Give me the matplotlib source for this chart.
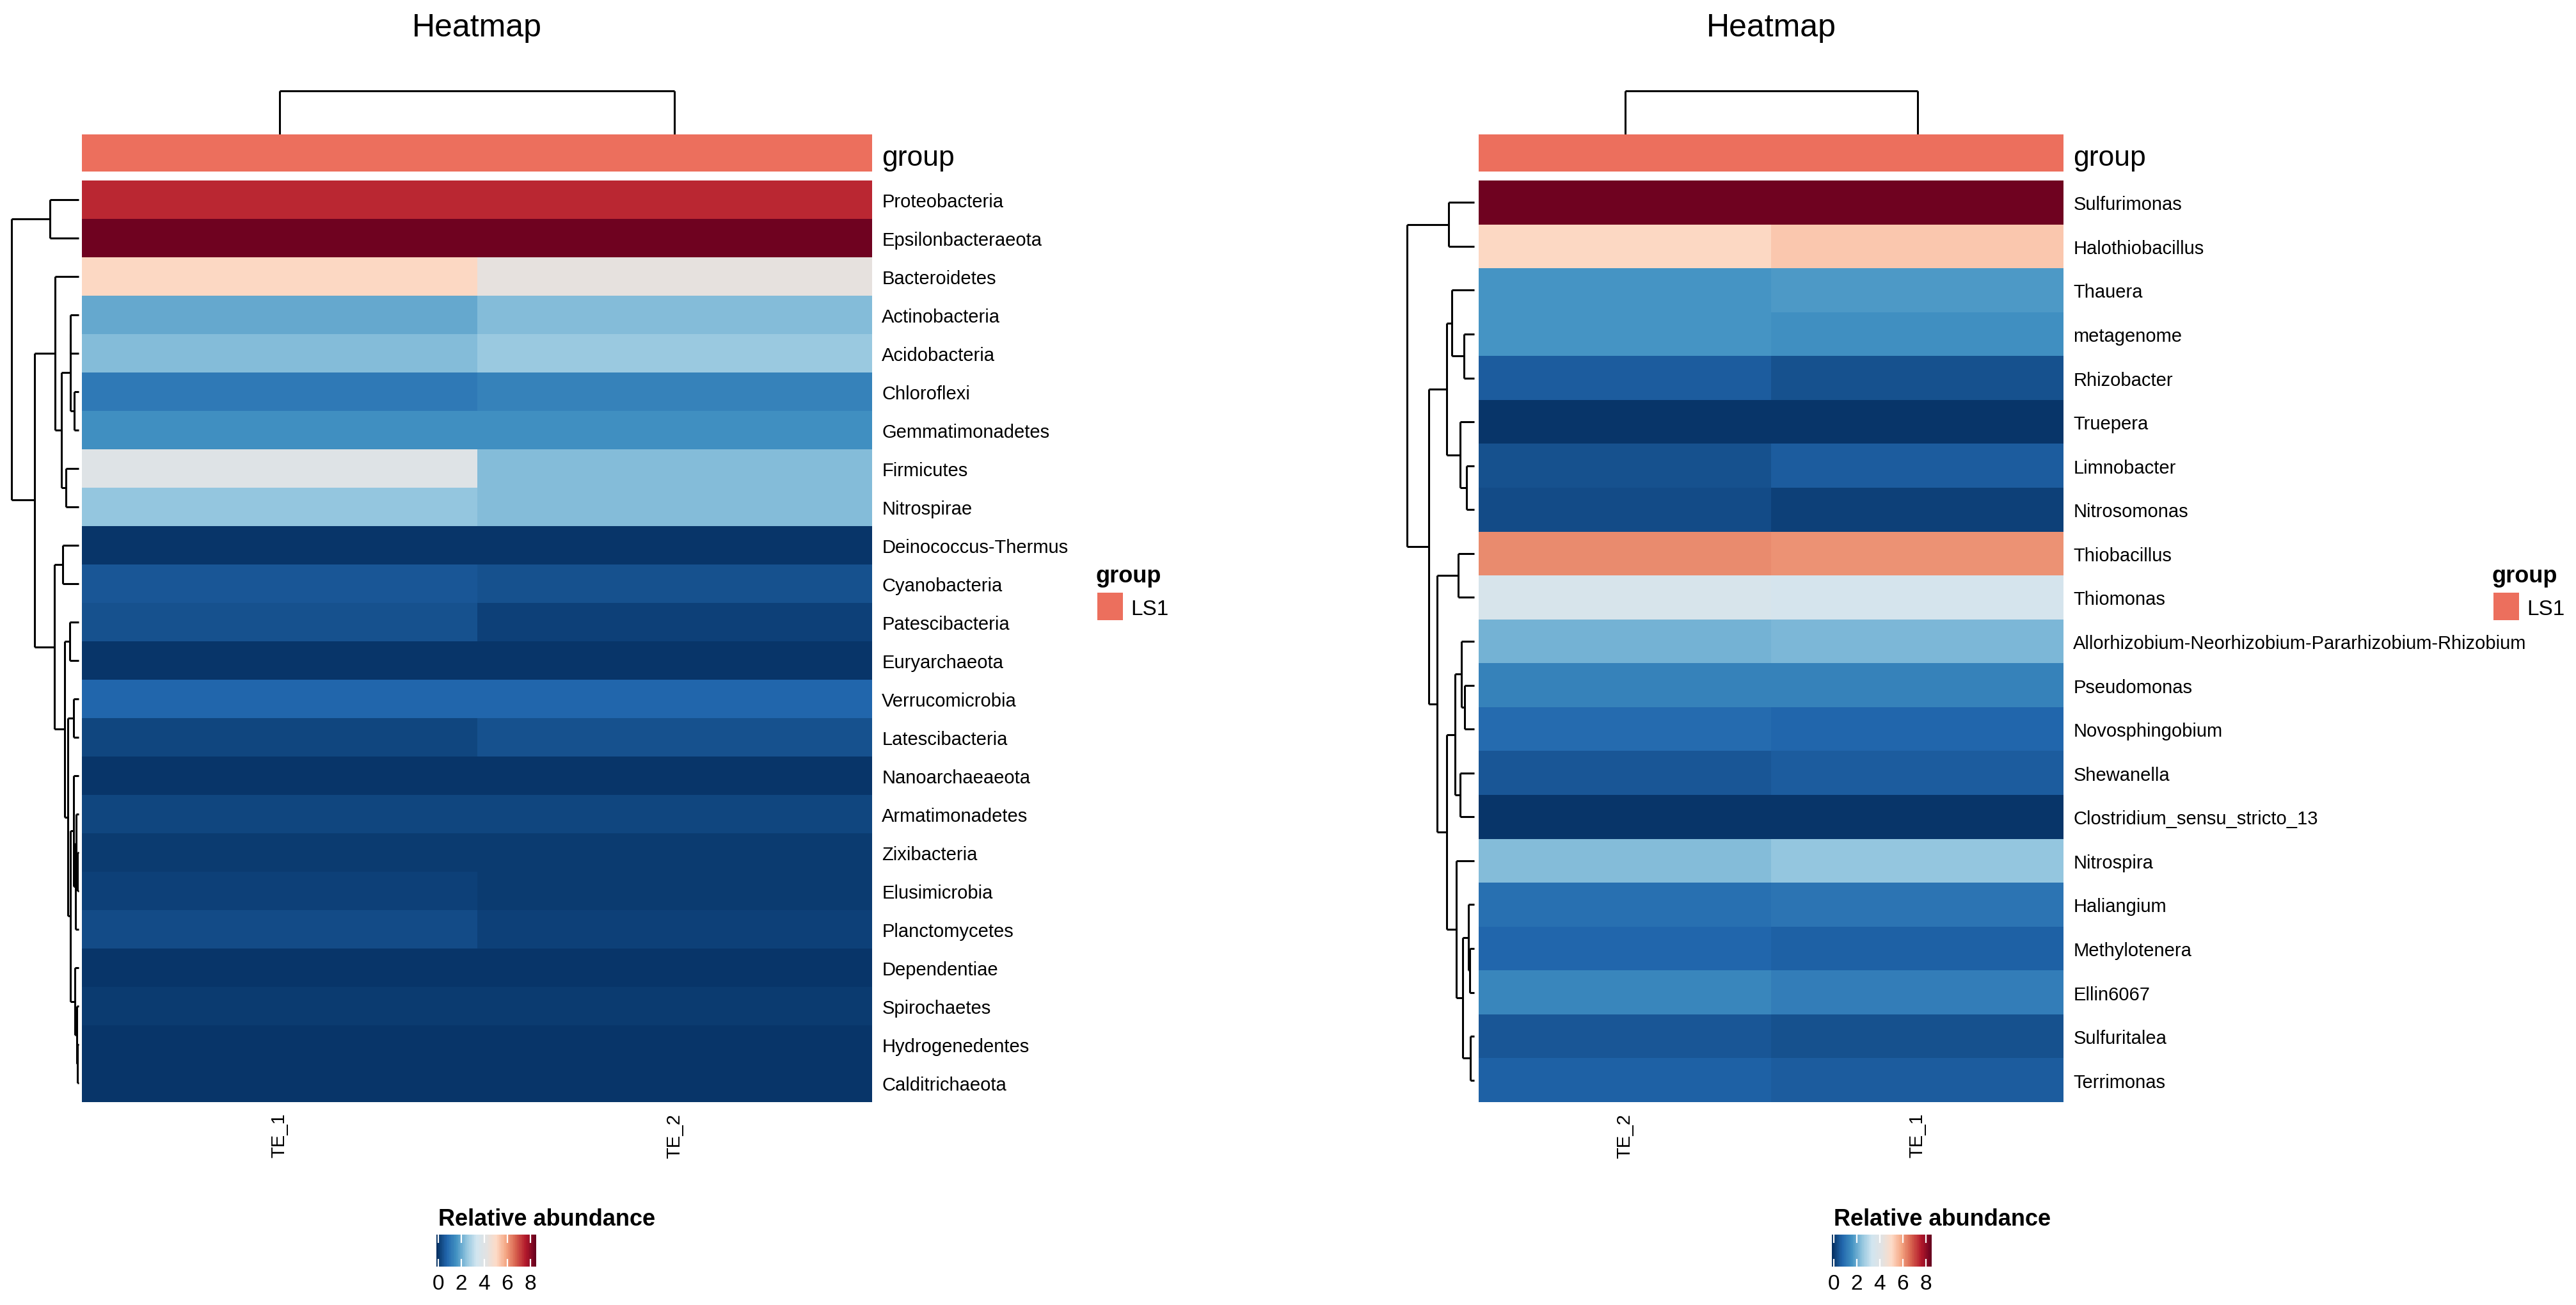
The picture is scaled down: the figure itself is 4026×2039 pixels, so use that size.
import numpy as np
import matplotlib
matplotlib.use('Agg')
import matplotlib.pyplot as plt
from matplotlib.colors import LinearSegmentedColormap, ListedColormap, Normalize
from matplotlib.cm import ScalarMappable
import matplotlib.patches as mpatches

plt.rcParams['font.family'] = ['Liberation Sans', 'DejaVu Sans']

W, H = 4026, 2040

# ---- data: phylum level (left panel) ----
phyla = ['Proteobacteria', 'Epsilonbacteraeota', 'Bacteroidetes', 'Actinobacteria',
         'Acidobacteria', 'Chloroflexi', 'Gemmatimonadetes', 'Firmicutes', 'Nitrospirae',
         'Deinococcus-Thermus', 'Cyanobacteria', 'Patescibacteria', 'Euryarchaeota',
         'Verrucomicrobia', 'Latescibacteria', 'Nanoarchaeaeota', 'Armatimonadetes',
         'Zixibacteria', 'Elusimicrobia', 'Planctomycetes', 'Dependentiae', 'Spirochaetes',
         'Hydrogenedentes', 'Calditrichaeota']
phyla_te1 = [7.4, 8.35, 5.05, 1.95, 2.35, 1.1, 1.5, 4.0, 2.45, 0.0, 0.5, 0.45, 0.0,
             0.75, 0.2, 0.0, 0.2, 0.07, 0.15, 0.3, 0.02, 0.04, 0.0, 0.0]
phyla_te2 = [7.4, 8.4, 4.3, 2.3, 2.6, 1.3, 1.5, 2.3, 2.3, 0.0, 0.4, 0.15, 0.02,
             0.78, 0.4, 0.0, 0.2, 0.07, 0.07, 0.15, 0.02, 0.04, 0.0, 0.0]
phyla_cols = ['TE_1', 'TE_2']
# merges: (child a, child b, height relative to root); leaves 0..n-1, clusters n+k
phyla_links = [(0, 1, 0.43), (3, 4, 0.12), (5, 6, 0.07), (25, 26, 0.125), (7, 8, 0.19),
               (27, 28, 0.254), (2, 29, 0.356), (9, 10, 0.24), (11, 12, 0.133),
               (13, 14, 0.08), (17, 18, 0.02), (16, 34, 0.035), (35, 19, 0.05),
               (15, 36, 0.075), (22, 23, 0.015), (21, 38, 0.03), (20, 39, 0.055),
               (37, 40, 0.127), (33, 41, 0.165), (32, 42, 0.206), (31, 43, 0.365),
               (30, 44, 0.66), (24, 45, 1.0)]

# ---- data: genus level (right panel) ----
genera = ['Sulfurimonas', 'Halothiobacillus', 'Thauera', 'metagenome', 'Rhizobacter',
          'Truepera', 'Limnobacter', 'Nitrosomonas', 'Thiobacillus', 'Thiomonas',
          'Allorhizobium-Neorhizobium-Pararhizobium-Rhizobium', 'Pseudomonas',
          'Novosphingobium', 'Shewanella', 'Clostridium_sensu_stricto_13', 'Nitrospira',
          'Haliangium', 'Methylotenera', 'Ellin6067', 'Sulfuritalea', 'Terrimonas']
genera_te2 = [8.4, 5.1, 1.6, 1.6, 0.6, 0.0, 0.45, 0.35, 6.2, 3.6, 2.1, 1.25, 0.82,
              0.5, 0.0, 2.3, 0.9, 0.72, 1.38, 0.52, 0.68]
genera_te1 = [8.4, 5.3, 1.75, 1.55, 0.45, 0.0, 0.62, 0.17, 6.1, 3.55, 2.2, 1.32, 0.72,
              0.6, 0.0, 2.45, 1.0, 0.63, 1.22, 0.43, 0.62]
genera_cols = ['TE_2', 'TE_1']
genera_links = [(0, 1, 0.38), (3, 4, 0.156), (2, 22, 0.33), (6, 7, 0.11), (5, 24, 0.21),
                (23, 25, 0.41), (8, 9, 0.24), (11, 12, 0.14), (10, 28, 0.19),
                (13, 14, 0.21), (29, 30, 0.29), (17, 18, 0.07), (16, 32, 0.09),
                (19, 20, 0.06), (33, 34, 0.17), (15, 35, 0.27), (31, 36, 0.41),
                (27, 37, 0.55), (26, 38, 0.68), (21, 39, 1.0)]

group_name = 'LS1'
cbar_ticks = [0, 2, 4, 6, 8]

cmap = LinearSegmentedColormap.from_list(
    'rdbu', ['#053061', '#2166AC', '#4393C3', '#92C5DE', '#D1E5F0', '#E2E2E2',
             '#FDDBC7', '#F4A582', '#D6604D', '#B2182B', '#67001F'], N=100)
norm = Normalize(vmin=-0.15, vmax=8.5)
group_color = '#EC6F5D'


def add_ax(x0, y0, x1, y1):
    # pixel box (top-left origin) -> figure axes
    ax = fig.add_axes([x0 / W, 1 - y1 / H, (x1 - x0) / W, (y1 - y0) / H])
    ax.set_axis_off()
    return ax


def fx(x):
    return x / W


def fy(y):
    return 1 - y / H


def tree_segments(links, n):
    pos = {i: i + 0.5 for i in range(n)}
    hgt = {i: 0.0 for i in range(n)}
    segs = []
    for k, (a, b, h) in enumerate(links):
        for c in (a, b):
            segs.append((hgt[c], h, pos[c], pos[c]))
        segs.append((h, h, pos[a], pos[b]))
        pos[n + k] = (pos[a] + pos[b]) / 2
        hgt[n + k] = h
    return segs


def panel(labels, col_labels, values, links, hx0, hx1, dx0, dx1, legend_x, cbar_x):
    n = len(labels)
    hy0, hy1 = 283, 1723

    # heatmap
    ax = add_ax(hx0, hy0, hx1, hy1)
    ax.set_axis_on()
    mat = np.column_stack(values)
    ax.pcolormesh(mat, cmap=cmap, norm=norm, edgecolors='none', antialiased=False)
    ax.set_xlim(0, len(col_labels))
    ax.set_ylim(n, 0)
    for s in ax.spines.values():
        s.set_visible(False)
    ax.yaxis.tick_right()
    ax.set_yticks(np.arange(n) + 0.5)
    ax.set_yticklabels(labels, fontsize=21)
    ax.set_xticks(np.arange(len(col_labels)) + 0.5)
    ax.set_xticklabels(col_labels, fontsize=21, rotation=90)
    ax.tick_params(axis='y', length=0, pad=11)
    ax.tick_params(axis='x', length=0, pad=12)

    # row dendrogram
    dax = add_ax(dx0, hy0, dx1, hy1)
    for h0, h1, p0, p1 in tree_segments(links, n):
        dax.plot([h0, h1], [p0, p1], color='black', lw=2.2, clip_on=False,
                 solid_capstyle='butt')
    dax.set_xlim(1, 0)
    dax.set_ylim(n, 0)

    # column dendrogram (two samples)
    cax = add_ax(hx0, 143, hx1, 211)
    for h0, h1, p0, p1 in tree_segments([(0, 1, 1.0)], len(col_labels)):
        cax.plot([p0, p1], [h0, h1], color='black', lw=2.2, clip_on=False,
                 solid_capstyle='butt')
    cax.set_xlim(0, len(col_labels))
    cax.set_ylim(0, 1)

    # group annotation bar
    gax = add_ax(hx0, 211, hx1, 269)
    gax.imshow(np.zeros((1, len(col_labels))), cmap=ListedColormap([group_color]),
               aspect='auto', interpolation='nearest')
    fig.text(fx(hx1 + 15), fy(247), 'group', fontsize=32, va='center', ha='left')

    # title
    fig.text(fx((hx0 + hx1) / 2), fy(44), 'Heatmap', fontsize=36,
             ha='center', va='center')

    # group legend
    fig.text(fx(legend_x), fy(910), 'group', fontsize=26, fontweight='bold',
             ha='left', va='baseline')
    fig.patches.append(mpatches.Rectangle((fx(legend_x + 2), fy(970)), 40 / W, 43 / H,
                                          transform=fig.transFigure,
                                          facecolor=group_color, edgecolor='none'))
    fig.text(fx(legend_x + 54), fy(961), group_name, fontsize=24,
             ha='left', va='baseline')

    # colour key
    fig.text(fx(cbar_x + 3), fy(1915), 'Relative abundance', fontsize=26,
             fontweight='bold', ha='left', va='baseline')
    kax = fig.add_axes([fx(cbar_x), fy(1980), 156 / W, 50 / H])
    cb = fig.colorbar(ScalarMappable(norm=norm, cmap=cmap), cax=kax,
                      orientation='horizontal', ticks=cbar_ticks)
    cb.outline.set_visible(False)
    cb.minorticks_off()
    kax.tick_params(which='major', direction='in', color='white', length=9,
                    width=1.6, top=True, bottom=True, labelsize=24, pad=8)


fig = plt.figure(figsize=(W / 100, H / 100), dpi=100)

panel(phyla, phyla_cols, [phyla_te1, phyla_te2], phyla_links,
      128, 1363, 18, 123, 1713, 682)
panel(genera, genera_cols, [genera_te2, genera_te1], genera_links,
      2311, 3225, 2199, 2304, 3895, 2863)

fig.savefig('out.png', dpi=100, facecolor='white')
